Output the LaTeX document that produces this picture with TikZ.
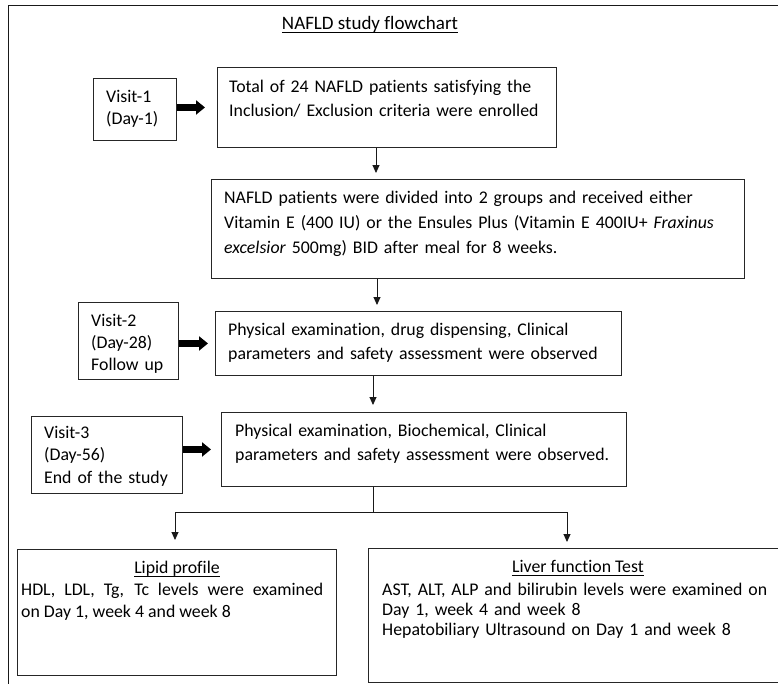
\documentclass[tikz,border=0pt]{standalone}
\usepackage{fontspec}
\setmainfont{Carlito}[Ligatures=NoCommon]
\usetikzlibrary{arrows.meta}
\newcommand{\fs}[1]{\fontsize{17.8}{#1}\selectfont}
\begin{document}
\begin{tikzpicture}[x=1pt,y=-1pt,
  box/.style={draw=black!85, line width=0.9pt, anchor=north west, inner sep=0pt},
  txt/.style={anchor=base west, inner sep=0pt, align=left, text width=#1},
  txt/.default=440pt,
  conn/.style={line width=0.9pt, draw=black!90, -{Triangle[length=8pt,width=7pt]}},
  fat/.style={line width=6.5pt, -{Triangle[length=9pt,width=14pt]}}]
\useasboundingbox (0,0) rectangle (778,683);
% outer frame
\draw[line width=1pt, black!90] (8,700) -- (8,5.5) -- (800,5.5);
% title
\node[anchor=base, inner sep=0pt, font=\fontsize{19}{22}\selectfont] (title) at (370,29) {NAFLD study flowchart};
\draw[line width=0.8pt] ([yshift=-3pt]title.base west) -- ([yshift=-3pt]title.base east);
% boxes
\node[box, minimum width=83pt, minimum height=62pt] (v1) at (93,78) {};
\node[box, minimum width=339pt, minimum height=80pt] (b1) at (217,67) {};
\node[box, minimum width=533pt, minimum height=99pt] (b2) at (211,179) {};
\node[box, minimum width=100pt, minimum height=77pt] (v2) at (78,302) {};
\node[box, minimum width=406pt, minimum height=64pt] (b3) at (215,311) {};
\node[box, minimum width=151pt, minimum height=77pt] (v3) at (31,416) {};
\node[box, minimum width=405pt, minimum height=74pt] (b4) at (221,412) {};
\node[box, minimum width=319pt, minimum height=126pt] (lip) at (17,549) {};
\node[box, minimum width=440pt, minimum height=134pt] (lft) at (368,548) {};
% texts
\node[txt=80pt, font=\fs{22}] (tv1) at (106,102) {Visit-1\\(Day-1)};
\node[txt, font=\fs{24}] (tb1) at (229,92) {Total of 24 NAFLD patients satisfying the\\Inclusion/ Exclusion criteria were enrolled};
\node[txt=520pt, font=\fs{25}] (tb2) at (224,203) {NAFLD patients were divided into 2 groups and received either\\Vitamin E (400 IU) or the Ensules Plus (Vitamin E 400IU+ \textit{Fraxinus}\\\textit{excelsior} 500mg) BID after meal for 8 weeks.};
\node[txt=100pt, font=\fs{22}] (tv2) at (91,326) {Visit-2\\(Day-28)\\Follow up};
\node[txt=150pt, font=\fs{22.5}] (tv3) at (44,438) {Visit-3\\(Day-56)\\End of the study};
\node[txt, font=\fs{24}] (tb3) at (228,335) {Physical examination, drug dispensing, Clinical\\parameters and safety assessment were observed};
\node[txt, font=\fs{24}] (tb4) at (235,436) {Physical examination, Biochemical, Clinical\\parameters and safety assessment were observed.};
\node[anchor=base, inner sep=0pt, font=\fs{20}] (hlip) at (177,573) {Lipid profile};
\draw[line width=0.8pt] ([yshift=-3pt]hlip.base west) -- ([yshift=-3pt]hlip.base east);
\node[anchor=base west, inner sep=0pt, text width=302pt, align=justify, font=\fs{22}] (tlip) at (21,595) {HDL, LDL, Tg, Tc levels were examined\linebreak on Day 1, week 4 and week 8};
\node[anchor=base, inner sep=0pt, font=\fs{20}] (hlft) at (578,572) {Liver function Test};
\draw[line width=0.8pt] ([yshift=-3pt]hlft.base west) -- ([yshift=-3pt]hlft.base east);
\node[txt, font=\fs{20}] (tlft) at (382,595) {AST, ALT, ALP and bilirubin levels were examined on\\Day 1, week 4 and week 8\\Hepatobiliary Ultrasound on Day 1 and week 8};
% fat arrows
\draw[fat, shorten >=12pt] (v1.east |- b1.west) -- (b1.west);
\draw[fat, shorten >=7pt] (v2.east |- b3.west) -- (b3.west);
\draw[fat, shorten >=10pt] (v3.east |- b4.west) -- (b4.west);
% thin arrows
\coordinate (c1) at (376,0);
\coordinate (c2) at (377,0);
\coordinate (c3) at (373,0);
\draw[conn, shorten >=6pt] (b1.south -| c1) -- (b2.north -| c1);
\draw[conn, shorten >=6pt] (b2.south -| c2) -- (b3.north -| c2);
\draw[conn, shorten >=7pt] (b3.south -| c3) -- (b4.north -| c3);
\coordinate (j) at (373,512);
\coordinate (jl) at (175,512);
\coordinate (jr) at (567,512);
\draw[line width=0.9pt, black!90] (b4.south -| j) -- (j);
\draw[line width=0.9pt, black!90] (jl) -- (jr);
\draw[conn, shorten >=9pt] (jl) -- (lip.north -| jl);
\draw[conn, shorten >=6pt] (jr) -- (lft.north -| jr);
\end{tikzpicture}
\end{document}
